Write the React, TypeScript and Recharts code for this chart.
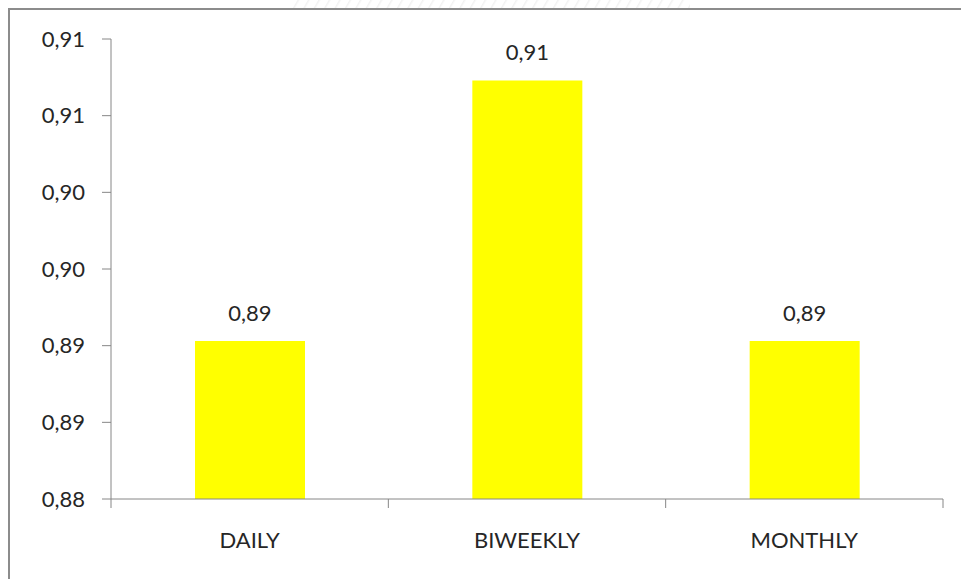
import React from 'react';
import { BarChart, Bar, XAxis, YAxis, LabelList } from 'recharts';

// Chart data
const categories = ['DAILY', 'BIWEEKLY', 'MONTHLY'];
const values = [0.8903, 0.9073, 0.8903];
const yTicks = [0.88, 0.885, 0.89, 0.895, 0.9, 0.905, 0.91];
const yTickLabels = ['0,88', '0,89', '0,89', '0,90', '0,90', '0,91', '0,91'];

const data = categories.map((name, i) => ({ name, value: values[i] }));

const FONT = 'Lato, "Open Sans", sans-serif';
const FONT_SIZE = 22;
const TEXT_COLOR = '#262626';
const AXIS_COLOR = '#868686';
const X_TICK_SIZE = 9;
const X_TICK_MARGIN = 24;

const formatComma = (v: number) => Number(v).toFixed(2).replace('.', ',');

// Category tick: label centred under the bar, tick marks on the band edges
const XTick = (props: any) => {
  const { x, y, payload, index, visibleTicksCount, width } = props;
  const band =
    payload && payload.offset ? payload.offset * 2 : width / visibleTicksCount;
  const axisY = y - X_TICK_SIZE - X_TICK_MARGIN;
  const left = x - band / 2;
  const right = x + band / 2;
  return (
    <g>
      <line x1={left} x2={left} y1={axisY} y2={axisY + X_TICK_SIZE} stroke={AXIS_COLOR} strokeWidth={1} />
      {index === visibleTicksCount - 1 && (
        <line x1={right} x2={right} y1={axisY} y2={axisY + X_TICK_SIZE} stroke={AXIS_COLOR} strokeWidth={1} />
      )}
      <text
        x={x}
        y={y}
        dy="0.71em"
        textAnchor="middle"
        fill={TEXT_COLOR}
        fontFamily={FONT}
        fontSize={FONT_SIZE}
      >
        {payload.value}
      </text>
    </g>
  );
};

export default function App() {
  return (
    <div
      style={{
        position: 'absolute',
        left: 0,
        top: 0,
        width: 961,
        height: 579,
        overflow: 'hidden',
        background: '#ffffff',
      }}
    >
      {/* faint shadow strip above the frame */}
      <div
        style={{
          position: 'absolute',
          left: 290,
          top: 0,
          width: 400,
          height: 8,
          background:
            'repeating-linear-gradient(120deg, #ffffff 0px, #ffffff 6px, #e4e4e4 7px, #ffffff 9px)',
          opacity: 0.5,
        }}
      />
      {/* chart frame */}
      <div
        style={{
          position: 'absolute',
          left: 8,
          top: 8,
          width: 1000,
          height: 620,
          border: '2px solid #8c8c8c',
          boxSizing: 'border-box',
        }}
      />
      <div style={{ position: 'absolute', left: 0, top: 0 }}>
        <BarChart
          width={961}
          height={579}
          data={data}
          margin={{ top: 39, right: 18, bottom: 0, left: 0 }}
          barCategoryGap="30%"
        >
          <XAxis
            dataKey="name"
            height={80}
            axisLine={{ stroke: AXIS_COLOR, strokeWidth: 1 }}
            tickLine={false}
            tickSize={X_TICK_SIZE}
            tickMargin={X_TICK_MARGIN}
            tick={<XTick />}
            interval={0}
          />
          <YAxis
            width={111}
            domain={[0.88, 0.91]}
            ticks={yTicks}
            allowDataOverflow
            axisLine={{ stroke: AXIS_COLOR, strokeWidth: 1 }}
            tickLine={{ stroke: AXIS_COLOR, strokeWidth: 1 }}
            tickSize={9}
            tickMargin={17}
            tick={{ fill: TEXT_COLOR, fontFamily: FONT, fontSize: FONT_SIZE }}
            tickFormatter={(v: number) => {
              const i = yTicks.findIndex((t) => Math.abs(t - v) < 1e-9);
              return i >= 0 ? yTickLabels[i] : formatComma(v);
            }}
          />
          <Bar dataKey="value" fill="#FFFF00" barSize={110} isAnimationActive={false}>
            <LabelList
              dataKey="value"
              position="top"
              offset={20}
              formatter={(v: any) => formatComma(Number(v))}
              fill={TEXT_COLOR}
              fontFamily={FONT}
              fontSize={FONT_SIZE}
            />
          </Bar>
        </BarChart>
      </div>
    </div>
  );
}
